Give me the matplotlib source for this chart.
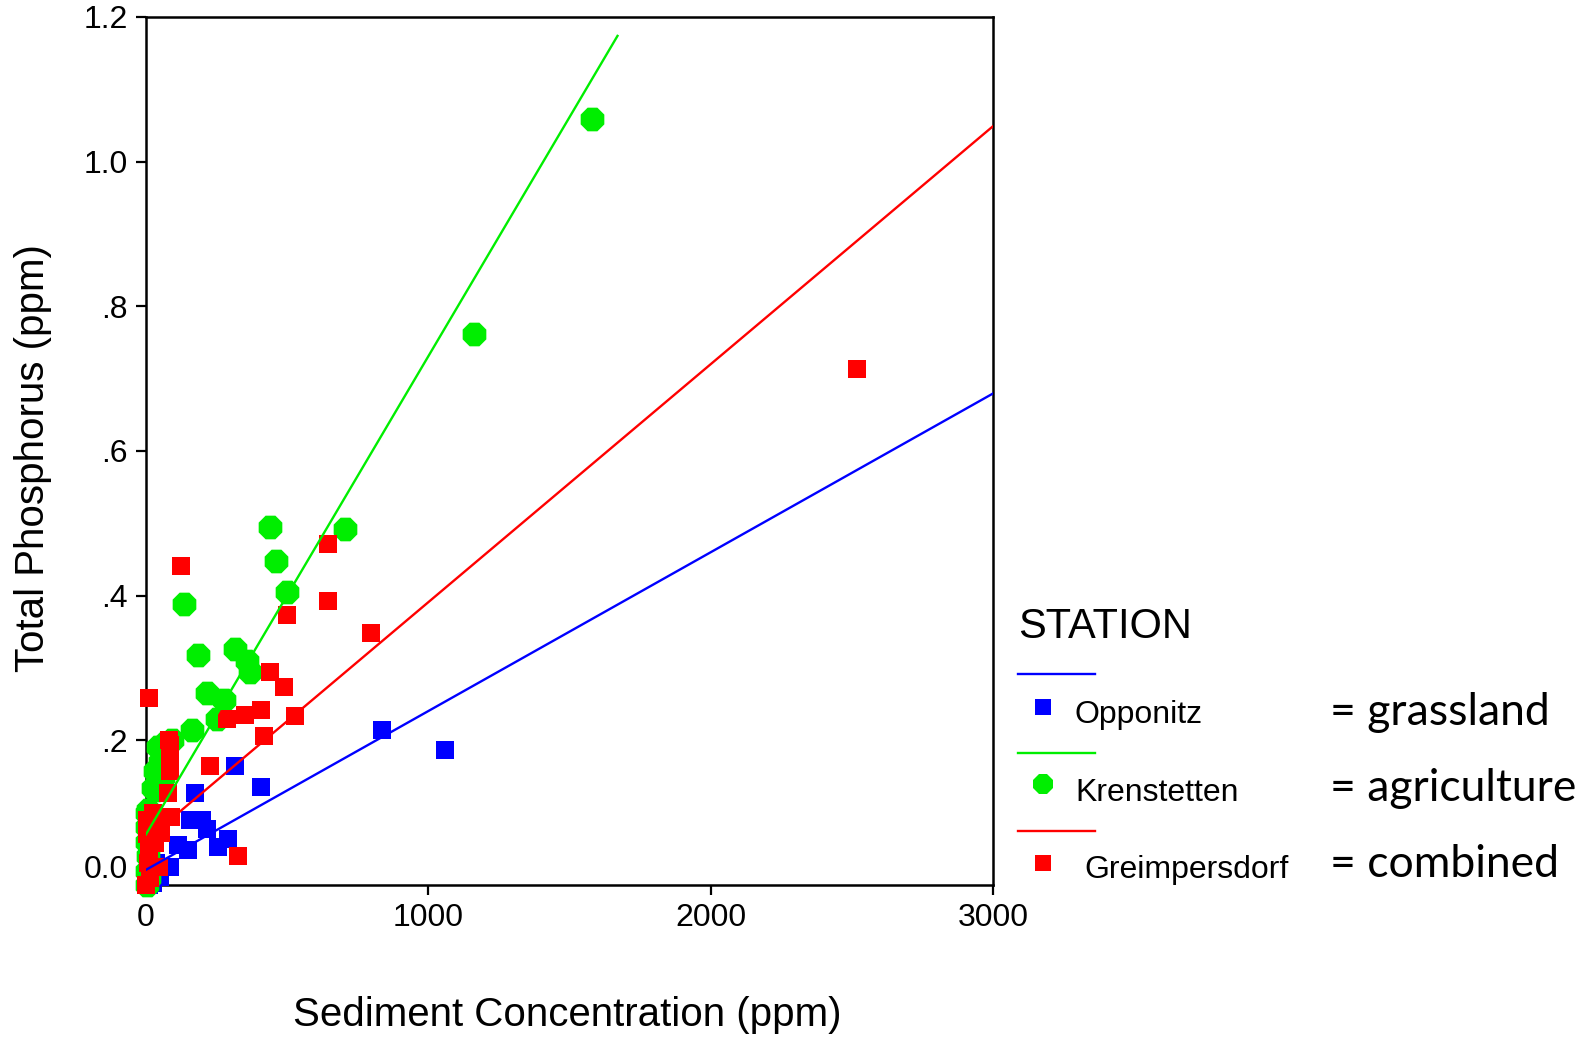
import matplotlib
matplotlib.use("Agg")
import matplotlib.pyplot as plt
from matplotlib.lines import Line2D

plt.rcParams['font.family'] = ['Liberation Sans', 'DejaVu Sans']

# sediment (ppm) / total phosphorus (ppm) per station
opp_x = [836, 1060, 408, 316, 174, 156, 215, 197, 256, 292, 150, 115, 85, 50, 25,
         5, 3, 8, 20, 12, 35]
opp_y = [0.214, 0.187, 0.135, 0.164, 0.127, 0.090, 0.078, 0.090, 0.053, 0.064, 0.048,
         0.055, 0.025, 0.011, 0.003, 0.100, 0.060, 0.020, 0.005, 0.0, 0.030]

kre_x = [1578, 1163, 438, 705, 459, 500, 135, 184, 317, 358, 368, 216, 277, 251, 162,
         91, 43, 66, 31, 25, 7, 50, 60, 32, 3, 5, 2, 6, 4, 3, 10]
kre_y = [1.059, 0.762, 0.495, 0.492, 0.448, 0.405, 0.389, 0.318, 0.326, 0.309, 0.295,
         0.266, 0.256, 0.230, 0.214, 0.200, 0.191, 0.196, 0.157, 0.134, 0.104, 0.170,
         0.149, 0.131, 0.100, 0.080, 0.060, 0.040, 0.020, 0.0, 0.010]

gre_x = [2519, 643, 123, 643, 501, 797, 439, 489, 12, 409, 350, 287, 527, 418, 225,
         327, 84, 84, 78, 90, 54, 31, 43, 0, 5, 3, 10, 6, 15, 30, 40, 25, 45, 83, 85]
gre_y = [0.714, 0.472, 0.441, 0.393, 0.373, 0.349, 0.294, 0.274, 0.258, 0.242, 0.235,
         0.230, 0.233, 0.206, 0.164, 0.040, 0.194, 0.157, 0.127, 0.094, 0.072, 0.058,
         0.025, 0.0, 0.090, 0.070, 0.050, 0.030, 0.010, 0.060, 0.080, 0.100, 0.025,
         0.200, 0.177]

# linear fit lines: intercept, slope, right end of line
fit_b = [0.021, 0.070, 0.062]
fit_m = [0.0002195, 0.000661, 0.000329]
fit_xmax = [3000, 1670, 3000]

stations = ['Opponitz', 'Krenstetten', 'Greimpersdorf']
landuse = ['= grassland', '= agriculture', '= combined']
colors = ['#0000ff', '#00ee00', '#ff0000']

W, H = 1595, 1038
fig = plt.figure(figsize=(W / 100, H / 100), dpi=100)
ax = fig.add_axes([146 / W, 1 - 885 / H, 847 / W, 868 / H])

ax.scatter(opp_x, opp_y, marker='s', s=150, color=colors[0], lw=0, clip_on=False, zorder=3)
ax.scatter(kre_x, kre_y, marker='8', s=340, color=colors[1], lw=0, clip_on=False, zorder=4)
ax.scatter(gre_x, gre_y, marker='s', s=150, color=colors[2], lw=0, clip_on=False, zorder=5)

for b, m, xm, c in zip(fit_b, fit_m, fit_xmax, colors):
    ax.plot([0, xm], [b, b + m * xm], color=c, lw=1.7, zorder=6)

ax.set_xlim(0, 3000)
ax.set_ylim(0, 1.2)
ax.set_xticks([0, 1000, 2000, 3000])
ax.set_yticks([0, 0.2, 0.4, 0.6, 0.8, 1.0, 1.2])
ax.set_yticklabels(['0.0', '.2', '.4', '.6', '.8', '1.0', '1.2'])
ax.tick_params(direction='out', length=7, width=1.6, labelsize=23, pad=6)
ax.get_yticklabels()[0].set_va('bottom')
for sp in ax.spines.values():
    sp.set_linewidth(1.8)

ax.set_xlabel('Sediment Concentration (ppm)', fontsize=29)
ax.xaxis.label.set_va('center')
ax.xaxis.set_label_coords((567 - 146) / 847, (885 - 1015) / 868)
ax.set_ylabel('Total Phosphorus (ppm)', fontsize=29)
ax.yaxis.label.set_va('center')
ax.yaxis.set_label_coords((33 - 146) / 847, (885 - 458) / 868)

# legend drawn by hand in pixel positions
def fx(p):
    return p / W

def fy(p):
    return 1 - p / H

fig.text(fx(1018), fy(627), 'STATION', fontsize=30, va='center')
line_y = [674, 753, 831]
mark_y = [707, 784, 863]
text_x = [1075, 1075, 1084]
text_y = [723, 801, 878]
eq_y = [725, 801, 877]
mk = ['s', '8', 's']
ms = [11, 15, 11]
for i in range(3):
    fig.add_artist(Line2D([fx(1018), fx(1095)], [fy(line_y[i])] * 2,
                          color=colors[i], lw=1.7, transform=fig.transFigure))
    fig.add_artist(Line2D([fx(1043)], [fy(mark_y[i])], marker=mk[i], ms=ms[i],
                          color=colors[i], mew=0, ls='none', transform=fig.transFigure))
    fig.text(fx(text_x[i]), fy(text_y[i]), stations[i], fontsize=23, va='baseline')
    fig.text(fx(1330), fy(eq_y[i]), landuse[i], fontsize=32, va='baseline',
             family=['Lato', 'DejaVu Sans'])

fig.savefig('out.png', dpi=100)
